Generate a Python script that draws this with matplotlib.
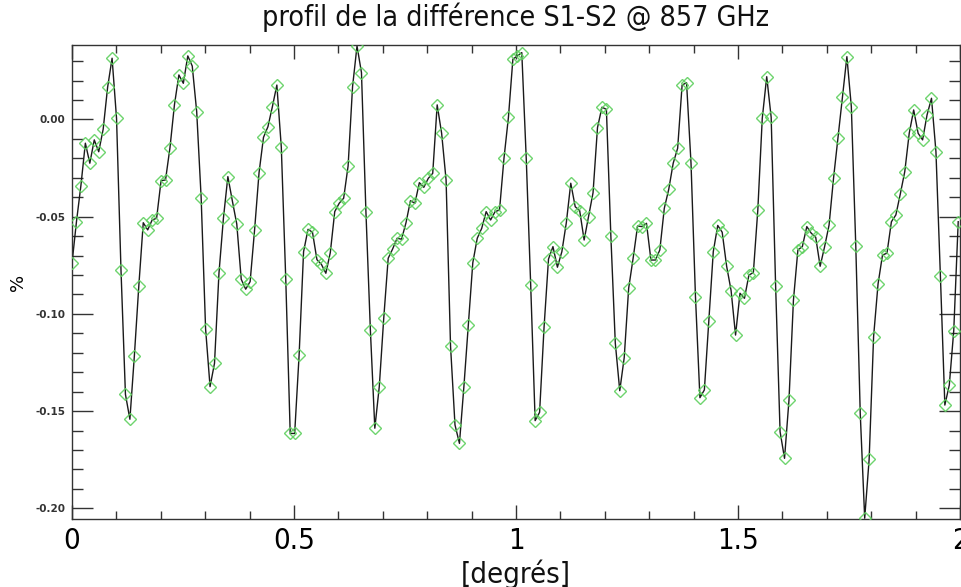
import numpy as np
import matplotlib
matplotlib.use("Agg")
import matplotlib.pyplot as plt
from matplotlib.ticker import MultipleLocator, FixedLocator, FixedFormatter

plt.rcParams["axes.unicode_minus"] = False

# Sampling of the profile along the cut (degrees)
start_deg = 0.0
step_deg = 0.01003

# Difference S1-S2 (%) at each sample
profile = [
    -0.0740, -0.0526, -0.0340, -0.0122, -0.0225, -0.0105, -0.0166, -0.0050, 0.0166, 0.0315,
    0.0006, -0.0774, -0.1414, -0.1542, -0.1217, -0.0857, -0.0531, -0.0568, -0.0517, -0.0508,
    -0.0315, -0.0311, -0.0145, 0.0075, 0.0229, 0.0186, 0.0327, 0.0275, 0.0040, -0.0402,
    -0.1078, -0.1374, -0.1254, -0.0791, -0.0508, -0.0294, -0.0418, -0.0538, -0.0822, -0.0873,
    -0.0834, -0.0568, -0.0274, -0.0092, -0.0037, 0.0066, 0.0177, -0.0143, -0.0822, -0.1615,
    -0.1615, -0.1211, -0.0680, -0.0565, -0.0580, -0.0721, -0.0745, -0.0791, -0.0685, -0.0474,
    -0.0431, -0.0405, -0.0239, 0.0169, 0.0378, 0.0241, -0.0474, -0.1083, -0.1588, -0.1374,
    -0.1023, -0.0714, -0.0666, -0.0611, -0.0616, -0.0531, -0.0418, -0.0431, -0.0325, -0.0349,
    -0.0303, -0.0277, 0.0075, -0.0071, -0.0311, -0.1165, -0.1571, -0.1666, -0.1374, -0.1057,
    -0.0737, -0.0611, -0.0560, -0.0474, -0.0517, -0.0474, -0.0466, -0.0200, 0.0011, 0.0310,
    0.0327, 0.0344, -0.0200, -0.0851, -0.1549, -0.1506, -0.1069, -0.0718, -0.0654, -0.0760,
    -0.0680, -0.0531, -0.0328, -0.0449, -0.0469, -0.0620, -0.0500, -0.0377, -0.0042, 0.0063,
    0.0052, -0.0599, -0.1151, -0.1395, -0.1225, -0.0868, -0.0714, -0.0548, -0.0551, -0.0534,
    -0.0723, -0.0723, -0.0671, -0.0457, -0.0359, -0.0225, -0.0148, 0.0177, 0.0189, -0.0225,
    -0.0911, -0.1431, -0.1391, -0.1035, -0.0680, -0.0545, -0.0580, -0.0755, -0.0880, -0.1109,
    -0.0894, -0.0920, -0.0800, -0.0788, -0.0466, 0.0006, 0.0220, 0.0011, -0.0857, -0.1606,
    -0.1743, -0.1443, -0.0929, -0.0671, -0.0654, -0.0551, -0.0585, -0.0606, -0.0755, -0.0654,
    -0.0543, -0.0303, -0.0097, 0.0114, 0.0323, 0.0066, -0.0651, -0.1511, -0.2051, -0.1748,
    -0.1117, -0.0846, -0.0697, -0.0688, -0.0526, -0.0491, -0.0383, -0.0268, -0.0071, 0.0049,
    -0.0071, -0.0105, 0.0023, 0.0109, -0.0166, -0.0805, -0.1469, -0.1366, -0.1086, -0.0526,
]

x_ticks = [0, 0.5, 1, 1.5, 2]
x_tick_labels = ["0", "0.5", "1", "1.5", "2"]
y_ticks = [0.00, -0.05, -0.10, -0.15, -0.20]
y_tick_labels = ["0.00", "-0.05", "-0.10", "-0.15", "-0.20"]

title = "profil de la différence S1-S2 @ 857 GHz"
x_label = "[degrés]"
y_label = "%"

degrees = start_deg + step_deg * np.arange(len(profile))

fig = plt.figure(figsize=(9.61, 5.87), dpi=100)
ax = fig.add_axes([72 / 961, 68 / 587, 888 / 961, 474 / 587])

ax.plot(degrees, profile, color="#1a1a1a", lw=1.0, zorder=2)
ax.plot(degrees, profile, ls="none", marker="D", ms=6, mfc="none",
        mec="#5fd05f", mew=1.0, alpha=0.9, zorder=3)

ax.set_xlim(0, 2)
ax.set_ylim(-0.2055, 0.0383)

ax.xaxis.set_major_locator(FixedLocator(x_ticks))
ax.xaxis.set_major_formatter(FixedFormatter(x_tick_labels))
ax.xaxis.set_minor_locator(MultipleLocator(0.1))
ax.yaxis.set_major_locator(FixedLocator(y_ticks))
ax.yaxis.set_major_formatter(FixedFormatter(y_tick_labels))
ax.yaxis.set_minor_locator(MultipleLocator(0.01))

ax.tick_params(axis="both", which="both", direction="in", top=True, right=True,
               color="#333333", width=1.0)
ax.tick_params(axis="x", which="major", length=10, pad=6, labelsize=21)
ax.tick_params(axis="x", which="minor", length=6)
ax.tick_params(axis="y", which="major", length=15, pad=5, labelsize=7.5)
ax.tick_params(axis="y", which="minor", length=8)
for lab in ax.get_xticklabels():
    lab.set_fontstretch("condensed")
for lab in ax.get_yticklabels():
    lab.set_fontweight("bold")
    lab.set_color("#333333")

for sp in ax.spines.values():
    sp.set_color("#333333")
    sp.set_linewidth(1.0)

fig.text(516 / 961, 1 - 17 / 587, title, ha="center", va="center",
         fontsize=20.5, fontstretch="condensed", color="#111111")
fig.text(516 / 961, 1 - 574 / 587, x_label, ha="center", va="center",
         fontsize=21, fontstretch="condensed", color="#111111")
ax.set_ylabel(y_label, fontsize=13, labelpad=6)

fig.savefig("out.png", dpi=100)
